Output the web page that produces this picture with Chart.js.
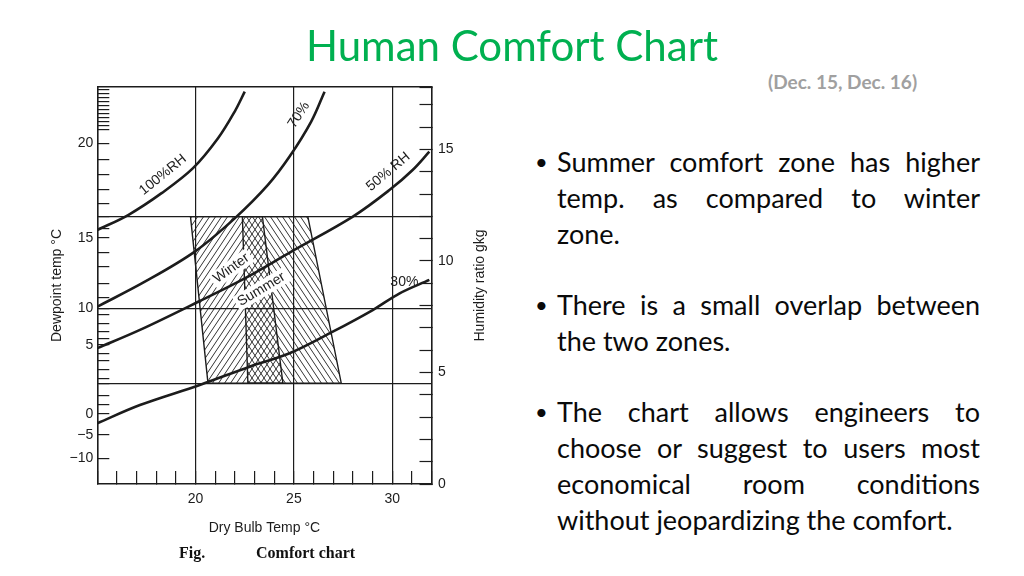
<!DOCTYPE html>
<html>
<head>
<meta charset="utf-8">
<script src="https://cdn.jsdelivr.net/npm/chart.js@4.4.1/dist/chart.umd.min.js"></script>
<style>
  html, body { margin: 0; padding: 0; background: #fff; }
  body { width: 1024px; height: 576px; position: relative; overflow: hidden; font-family: Lato, sans-serif; }
  #comfortChart { position: absolute; left: 0; top: 0; }
  h1 { position: absolute; left: 0; top: 20px; width: 1024px; margin: 0; text-align: center;
       font: normal 42px/50px Lato, sans-serif; color: #00b050; }
  .dates { position: absolute; left: 768px; top: 71px; font: bold 19px/22px Lato, sans-serif; color: #a0a0a0; }
  .bullets { position: absolute; left: 557px; top: 144px; width: 423px; font-size: 27px; line-height: 36px; color: #0a0a0a; }
  .bullets p { margin: 0 0 35px 0; position: relative; }
  .bullets p::before { content: "\2022"; position: absolute; left: -22px; top: 0; font-size: 22px; }
  .bullets span { display: block; text-align: justify; text-align-last: justify; white-space: nowrap; }
  .bullets span.end { text-align-last: left; }
  .caption { position: absolute; top: 543px; font: bold 16px/20px "Liberation Serif", serif; color: #111; }
</style>
</head>
<body>
<canvas id="comfortChart" width="520" height="576"></canvas>
<h1>Human Comfort Chart</h1>
<div class="dates">(Dec. 15, Dec. 16)</div>
<div class="bullets">
  <p><span>Summer comfort zone has higher</span><span>temp. as compared to winter</span><span class="end">zone.</span></p>
  <p><span>There is a small overlap between</span><span class="end">the two zones.</span></p>
  <p><span>The chart allows engineers to</span><span>choose or suggest to users most</span><span>economical room conditions</span><span class="end">without jeopardizing the comfort.</span></p>
</div>
<div class="caption" style="left:179px">Fig.</div>
<div class="caption" style="left:256px">Comfort chart</div>

<script>
// Dry bulb temp (°C) vs humidity ratio (g/kg)

// relative humidity curves
const rh100X = [15.0, 16.57, 18.27, 19.87, 21.14, 21.99, 22.50];
const rh100Y = [11.39, 12.06, 13.04, 14.16, 15.50, 16.70, 17.59];
const rh70X = [15.0, 17.42, 19.96, 21.99, 23.68, 24.78, 25.88, 26.56];
const rh70Y = [7.95, 9.07, 10.42, 11.91, 13.41, 14.68, 16.25, 17.59];
const rh50X = [15.0, 17.17, 20.13, 22.5, 24.87, 28.0, 29.86, 31.04, 31.89];
const rh50Y = [6.09, 6.91, 8.17, 9.22, 10.42, 11.99, 13.18, 14.08, 14.90];
const rh30X = [15.0, 17.17, 20.21, 22.75, 24.78, 26.98, 29.01, 30.38, 31.89];
const rh30Y = [2.72, 3.54, 4.44, 5.26, 5.86, 6.83, 7.80, 8.55, 9.15];

// comfort zones (corners, clockwise from top-left)
const winterX = [19.74, 23.40, 24.44, 20.63];
const winterY = [11.99, 11.99, 4.52, 4.52];
const summerX = [22.38, 25.71, 27.41, 22.66];
const summerY = [11.99, 11.99, 4.52, 4.52];

// axes
const xLabels = [20, 25, 30];
const xGuides = [20, 25, 30];
const ratioLabels = [0, 5, 10, 15];
const hGuides = [4.52, 7.88, 11.99];
const dewLabels = ['20', '15', '10', '5', '0', '\u22125', '\u221210'];
const dewLabelPos = [15.28, 11.03, 7.88, 6.23, 3.14, 2.20, 1.15];
const dewTickPos = [17.70, 17.52, 17.34, 17.16, 16.98, 16.80, 16.62, 16.44, 16.25, 16.05, 15.87,
    15.28, 14.56, 13.89, 13.22, 12.59, 11.99, 11.43, 11.03, 10.36, 9.73, 9.00, 8.37, 7.88,
    7.58, 7.21, 6.83, 6.53, 6.23, 5.86, 5.53, 5.14, 4.74, 4.52, 3.95, 3.54, 3.14, 2.20, 1.15];

const INK = '#1c1c1c';
const FONT = "'Liberation Sans', Arial, sans-serif";

const toPoints = (xs, ys) => xs.map((x, i) => ({ x: x, y: ys[i] }));
const closed = (xs, ys) => { const p = toPoints(xs, ys); p.push(p[0]); return p; };

function hatch(dir) {
    const w = 6, h = 9;
    const c = document.createElement('canvas');
    c.width = w; c.height = h;
    const g = c.getContext('2d');
    g.strokeStyle = INK;
    g.lineWidth = 0.9;
    g.beginPath();
    for (let k = -1; k <= 1; k++) {
        if (dir === '/') { g.moveTo(k * w, h); g.lineTo(k * w + w, 0); }
        else { g.moveTo(k * w, 0); g.lineTo(k * w + w, h); }
    }
    g.stroke();
    return g.createPattern(c, 'repeat');
}

// label positions in chart units
const curveNotes = [
    { text: '100%RH', x: 18.34, y: 13.86, rot: -39 },
    { text: '70%', x: 25.25, y: 16.55, rot: -57 },
    { text: '50% RH', x: 29.80, y: 14.00, rot: -40 },
    { text: '30%', x: 30.62, y: 9.06, rot: 0 }
];
const zoneNotes = [
    { text: 'Winter', x: 21.82, y: 9.67, rot: -36 },
    { text: 'Summer', x: 23.35, y: 8.73, rot: -31 }
];

function drawNote(ctx, chart, n, withBox) {
    const px = chart.scales.x.getPixelForValue(n.x);
    const py = chart.scales.y.getPixelForValue(n.y);
    ctx.save();
    ctx.translate(px, py);
    ctx.rotate(n.rot * Math.PI / 180);
    ctx.font = '14px ' + FONT;
    ctx.textAlign = 'center';
    ctx.textBaseline = 'middle';
    if (withBox) {
        const tw = ctx.measureText(n.text).width;
        ctx.fillStyle = '#fff';
        ctx.fillRect(-tw / 2 - 3, -8, tw + 6, 16);
    }
    ctx.fillStyle = INK;
    ctx.fillText(n.text, 0, 0);
    ctx.restore();
}

const notesPlugin = {
    id: 'notes',
    afterDatasetDraw(chart, args) {
        if (args.index !== 5) return; // summer zone is the last zone drawn
        zoneNotes.forEach(n => drawNote(chart.ctx, chart, n, true));
    },
    afterDatasetsDraw(chart) {
        curveNotes.forEach(n => drawNote(chart.ctx, chart, n, false));
    },
    afterDraw(chart) {
        const ctx = chart.ctx;
        const a = chart.chartArea;
        ctx.save();
        ctx.translate(480, (a.top + a.bottom) / 2);
        ctx.rotate(-Math.PI / 2);
        ctx.font = '14px ' + FONT;
        ctx.fillStyle = INK;
        ctx.textAlign = 'center';
        ctx.textBaseline = 'middle';
        ctx.fillText('Humidity ratio gkg', 0, 0);
        ctx.restore();
    }
};

const curveStyle = {
    showLine: true, borderColor: INK, borderWidth: 2.6, pointRadius: 0,
    tension: 0.35, fill: false, order: 0
};

new Chart(document.getElementById('comfortChart'), {
    type: 'scatter',
    data: {
        datasets: [
            Object.assign({ label: '100%', data: toPoints(rh100X, rh100Y) }, curveStyle),
            Object.assign({ label: '70%', data: toPoints(rh70X, rh70Y) }, curveStyle),
            Object.assign({ label: '50%', data: toPoints(rh50X, rh50Y) }, curveStyle),
            Object.assign({ label: '30%', data: toPoints(rh30X, rh30Y) }, curveStyle),
            {
                label: 'Winter', data: closed(winterX, winterY), showLine: true, pointRadius: 0,
                borderColor: INK, borderWidth: 1.4, backgroundColor: hatch('/'), fill: 'shape', tension: 0, order: 2
            },
            {
                label: 'Summer', data: closed(summerX, summerY), showLine: true, pointRadius: 0,
                borderColor: INK, borderWidth: 1.4, backgroundColor: hatch('\\'), fill: 'shape', tension: 0, order: 1
            }
        ]
    },
    options: {
        responsive: false,
        animation: false,
        events: [],
        layout: { padding: { top: 87, left: 0, right: 0, bottom: 0 } },
        plugins: { legend: { display: false }, tooltip: { enabled: false } },
        scales: {
            x: {
                type: 'linear', position: 'bottom', min: 15, max: 32,
                afterFit: s => { s.height = 92; },
                ticks: {
                    stepSize: 1, autoSkip: false, maxRotation: 0, padding: 20,
                    color: INK, font: { family: FONT, size: 14 },
                    callback: v => xLabels.includes(v) ? String(v) : ''
                },
                grid: {
                    color: c => (c.tick && xGuides.includes(c.tick.value)) ? INK : 'rgba(0,0,0,0)',
                    lineWidth: 1.2, tickColor: INK, tickWidth: 1.2, tickLength: -13
                },
                border: { color: INK, width: 1.6 },
                title: {
                    display: true, text: 'Dry Bulb Temp \u00b0C', color: INK,
                    font: { family: FONT, size: 14 }, padding: { top: 0, bottom: 39 }
                }
            },
            xTop: {
                type: 'linear', position: 'top', min: 15, max: 32,
                afterFit: s => { s.height = 0; },
                ticks: { display: false },
                grid: { drawOnChartArea: false, drawTicks: false },
                border: { color: INK, width: 1.6 }
            },
            y: {
                type: 'linear', position: 'right', min: 0, max: 17.8,
                afterFit: s => { s.width = 88.5; },
                ticks: {
                    stepSize: 1, autoSkip: false, padding: 18.5,
                    color: INK, font: { family: FONT, size: 14 },
                    callback: v => ratioLabels.includes(v) ? String(v) : ''
                },
                grid: { drawOnChartArea: false, tickColor: INK, tickWidth: 1.2, tickLength: -12 },
                border: { color: INK, width: 1.6 }
            },
            yDew: {
                type: 'linear', position: 'left', min: 0, max: 17.8,
                afterFit: s => { s.width = 97.3; },
                afterBuildTicks: s => { s.ticks = dewTickPos.map(v => ({ value: v })); },
                ticks: {
                    autoSkip: false, padding: 16,
                    color: INK, font: { family: FONT, size: 14 },
                    callback: v => { const k = dewLabelPos.indexOf(v); return k >= 0 ? dewLabels[k] : ''; }
                },
                grid: {
                    color: c => (c.tick && hGuides.includes(c.tick.value)) ? INK : 'rgba(0,0,0,0)',
                    lineWidth: 1.2, tickColor: INK, tickWidth: 1.2, tickLength: -12
                },
                border: { color: INK, width: 1.6 },
                title: {
                    display: true, text: 'Dewpoint temp \u00b0C', color: INK,
                    font: { family: FONT, size: 14 }, padding: { top: 48.6, bottom: 0 }
                }
            }
        }
    },
    plugins: [notesPlugin]
});
</script>
</body>
</html>
